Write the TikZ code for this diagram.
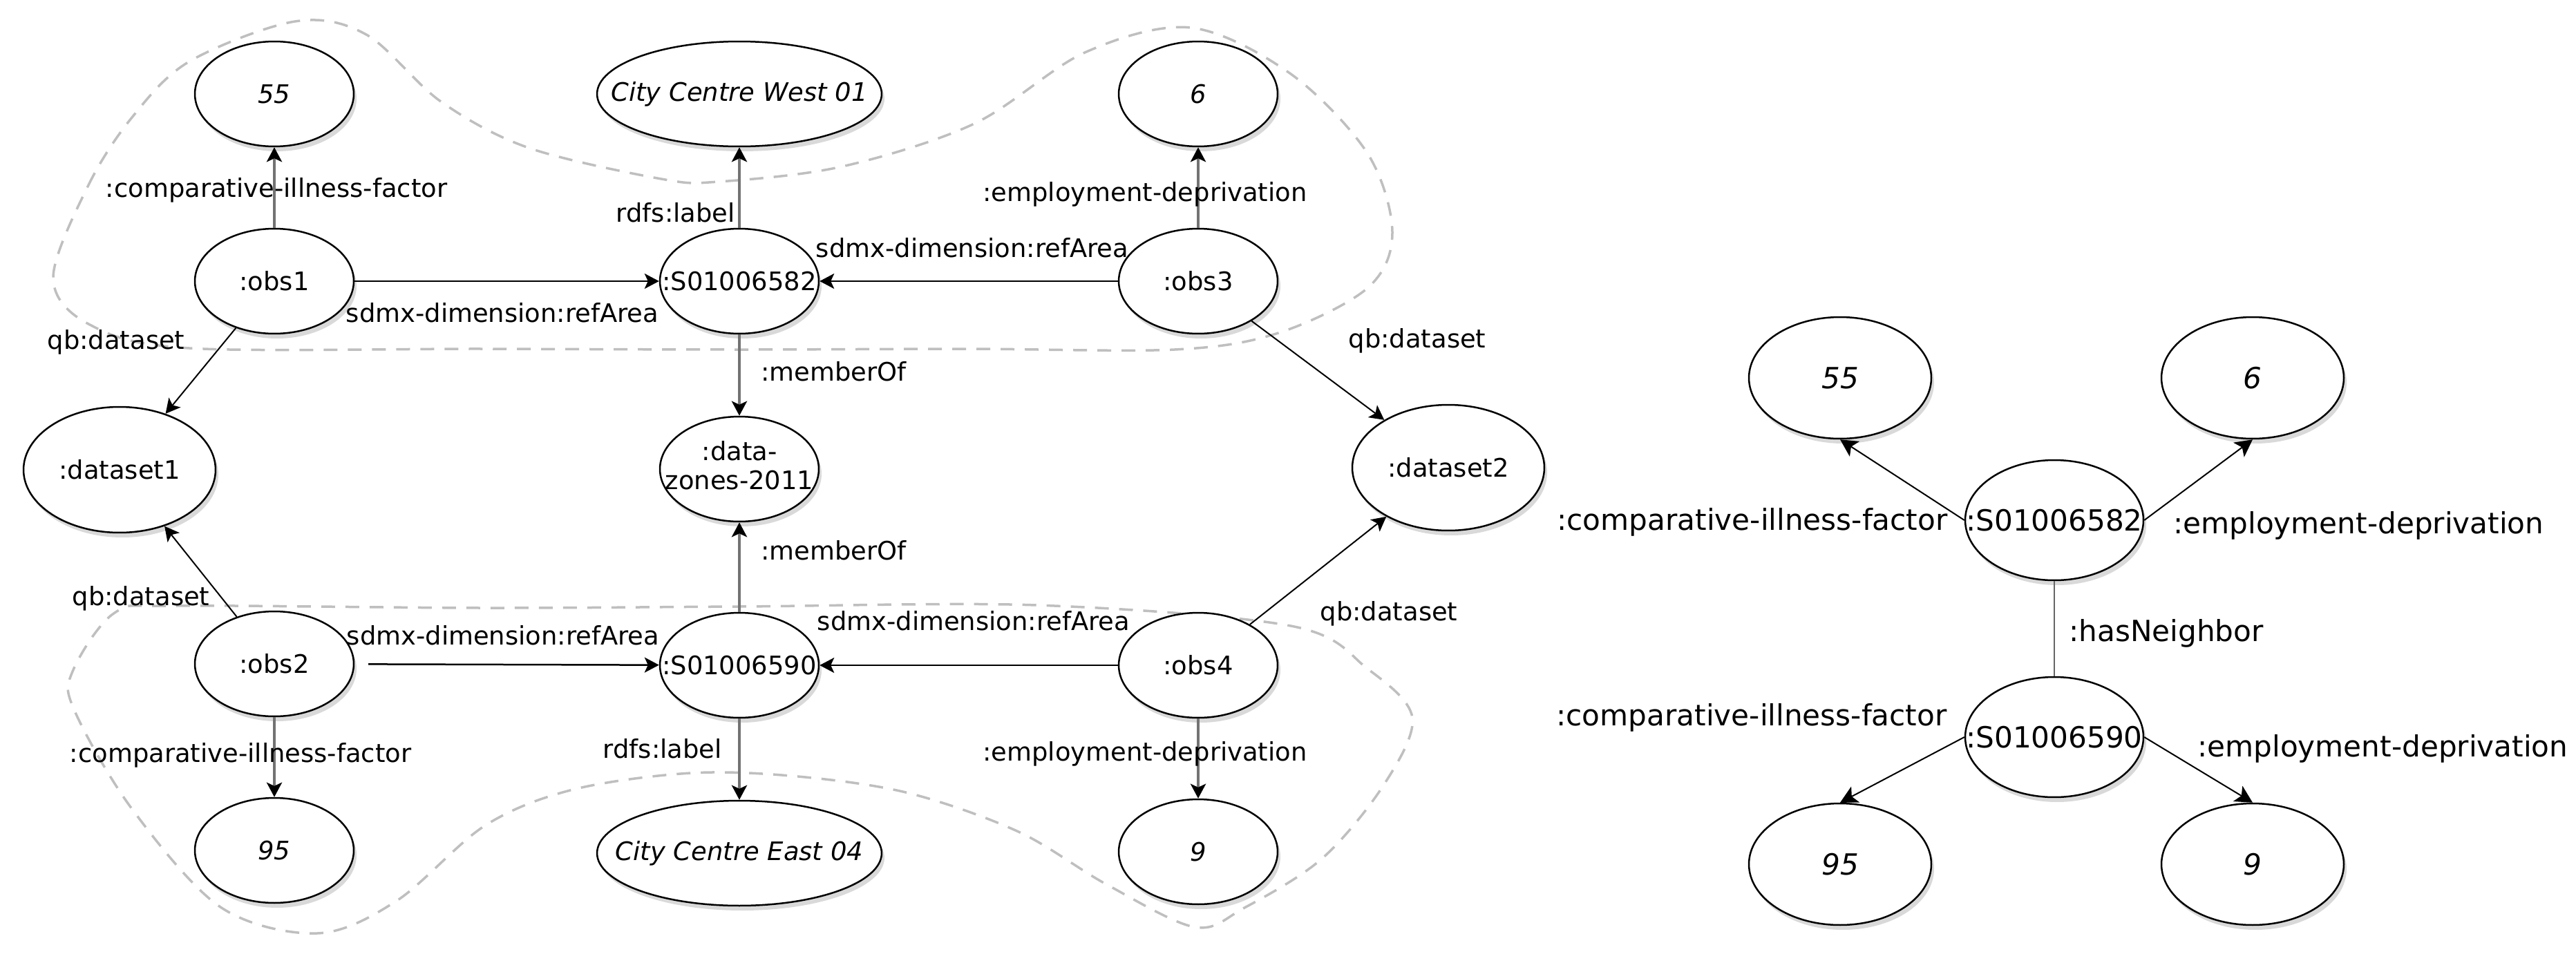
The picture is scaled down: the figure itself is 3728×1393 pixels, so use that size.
\documentclass[tikz,border=0pt]{standalone}
\usepackage{fontspec}
\setmainfont{DejaVu Sans}
\usetikzlibrary{shapes.geometric,arrows.meta,shadows}
\newcommand\ctxt[1]{\makebox[0pt]{#1}}
\begin{document}
\begin{tikzpicture}[x=0.02cm,y=-0.02cm,
  lab/.style={inner sep=0pt,font=\fontsize{21}{24}\selectfont},
  rlab/.style={inner sep=0pt,font=\fontsize{24}{27}\selectfont},
  bub/.style={ellipse,draw,line width=0.05cm,fill=white,inner sep=0pt,
    minimum width=4.6cm,minimum height=3.04cm,font=\fontsize{21}{24}\selectfont,
    drop shadow={shadow xshift=0.08cm,shadow yshift=-0.14cm,opacity=0.25,fill=black!60}},
  wide/.style={minimum width=8.24cm},
  big/.style={minimum width=5.56cm,minimum height=3.64cm},
  rbub/.style={bub,minimum width=5.28cm,minimum height=3.52cm,font=\fontsize{24}{27}\selectfont},
  rmid/.style={bub,minimum width=5.16cm,minimum height=3.48cm,font=\fontsize{24}{27}\selectfont},
  arr/.style={-{Stealth[length=0.42cm,width=0.44cm,inset=0.1cm,color=black]}},
  rarr/.style={-{Stealth[length=0.5cm,width=0.52cm,inset=0.12cm]}},
  vl/.style={line width=0.09cm,draw=black!55},
  hl/.style={line width=0.05cm,draw=black},
  dl/.style={line width=0.04cm,draw=black},
  blob/.style={draw=black!25,line width=0.07cm,dash pattern=on 0.4cm off 0.3cm}
]
\useasboundingbox (0,0) rectangle (3728,1393);

% group outlines
\draw[blob] plot[smooth cycle,tension=0.55] coordinates {
 (77,402) (128,268) (191,170) (274,89) (427,31) (530,50) (638,147) (765,214)
 (957,259) (1040,263) (1219,241) (1410,179) (1570,76) (1723,40) (1868,107)
 (1979,222) (2015,337) (1979,417) (1850,482) (1700,506) (1400,505) (1070,506)
 (700,505) (274,504) (130,470)};
\draw[blob] plot[smooth cycle,tension=0.55] coordinates {
 (166,887) (255,877) (700,880) (1070,878) (1500,876) (1868,906) (1979,968)
 (2044,1039) (2002,1137) (1913,1243) (1801,1314) (1729,1342) (1601,1280)
 (1474,1204) (1315,1148) (1155,1124) (1000,1119) (829,1143) (702,1195)
 (574,1304) (459,1351) (319,1313) (191,1171) (108,1029) (105,972)};

% left graph nodes
\node[bub] (n55a) at (397,136) {\ctxt{\itshape 55}};
\node[bub,wide] (ccw) at (1070,136) {\ctxt{\itshape City Centre West 01}};
\node[bub] (n6a) at (1734,136) {\ctxt{\itshape 6}};
\node[bub] (obs1) at (397,407) {\ctxt{:obs1}};
\node[bub] (s82) at (1070,407) {\ctxt{:S01006582}};
\node[bub] (obs3) at (1734,407) {\ctxt{:obs3}};
\node[bub,big] (ds1) at (173,680) {\ctxt{:dataset1}};
\node[bub] (dz) at (1070,679) {\ctxt{\begin{tabular}{@{}c@{}}:data-\\zones-2011\end{tabular}}};
\node[bub,big] (ds2) at (2096,677) {\ctxt{:dataset2}};
\node[bub] (obs2) at (397,961) {\ctxt{:obs2}};
\node[bub] (s90) at (1070,963) {\ctxt{:S01006590}};
\node[bub] (obs4) at (1734,963) {\ctxt{:obs4}};
\node[bub] (n95a) at (397,1231) {\ctxt{\itshape 95}};
\node[bub,wide] (cce) at (1070,1235) {\ctxt{\itshape City Centre East 04}};
\node[bub] (n9a) at (1734,1233) {\ctxt{\itshape 9}};

% left graph edges
\draw[vl,arr] (obs1) -- (n55a);
\draw[vl,arr] (s82) -- (ccw);
\draw[vl,arr] (obs3) -- (n6a);
\draw[hl,arr] (obs1) -- (s82);
\draw[hl,arr] (obs3) -- (s82);
\draw[vl,arr] (s82) -- (dz);
\draw[dl,arr] (obs1) -- (ds1);
\draw[dl,arr] (obs3) -- (ds2);
\draw[dl,arr] (obs2) -- (ds1);
\draw[dl,arr] (obs4) -- (ds2);
\draw[vl,arr] (s90) -- (dz);
\draw[hl,arr,shorten <=0.4cm] (obs2) -- (s90);
\draw[hl,arr] (obs4) -- (s90);
\draw[vl,arr] (s90) -- (cce);
\draw[vl,arr] (obs2) -- (n95a);
\draw[vl,arr] (obs4) -- (n9a);

% left graph labels
\node[lab] (l1) at (400,275) {:comparative-illness-factor};
\node[lab,anchor=east] (l2) at (1064,308) {rdfs:label};
\node[lab] (l3) at (1657,281) {:employment-deprivation};
\node[lab] (l4) at (727,453) {sdmx-dimension:refArea};
\node[lab] (l5) at (1407,359) {sdmx-dimension:refArea};
\node[lab,anchor=west] (l6) at (1101,538) {:memberOf};
\node[lab] (l7) at (168,495) {qb:dataset};
\node[lab] (l8) at (2051,493) {qb:dataset};
\node[lab] (l9) at (204,866) {qb:dataset};
\node[lab] (l10) at (2010,888) {qb:dataset};
\node[lab,anchor=west] (l11) at (1101,797) {:memberOf};
\node[lab] (l12) at (728,920) {sdmx-dimension:refArea};
\node[lab] (l13) at (1409,899) {sdmx-dimension:refArea};
\node[lab,anchor=east] (l14) at (1045,1084) {rdfs:label};
\node[lab] (l15) at (348,1093) {:comparative-illness-factor};
\node[lab] (l16) at (1657,1091) {:employment-deprivation};

% right graph
\node[rbub] (r55) at (2663,547) {\ctxt{\itshape 55}};
\node[rbub] (r6) at (3260,547) {\ctxt{\itshape 6}};
\node[rmid] (r82) at (2973,753) {\ctxt{:S01006582}};
\node[rmid] (r90) at (2973,1067) {\ctxt{:S01006590}};
\node[rbub] (r95) at (2663,1251) {\ctxt{\itshape 95}};
\node[rbub] (r9) at (3260,1251) {\ctxt{\itshape 9}};

\draw[dl,rarr] (r82.west) -- (r55.south);
\draw[dl,rarr] (r82.east) -- (r6.south);
\draw[line width=0.05cm,draw=black!60] (r82) -- (r90);
\draw[dl,rarr] (r90.west) -- (r95.north);
\draw[dl,rarr] (r90.east) -- (r9.north);

\node[rlab] (m1) at (2536,756) {:comparative-illness-factor};
\node[rlab,anchor=west] (m2) at (3145,761) {:employment-deprivation};
\node[rlab,anchor=west] (m3) at (2994,917) {:hasNeighbor};
\node[rlab] (m4) at (2535,1039) {:comparative-illness-factor};
\node[rlab,anchor=west] (m5) at (3180,1084) {:employment-deprivation};
\end{tikzpicture}
\end{document}
